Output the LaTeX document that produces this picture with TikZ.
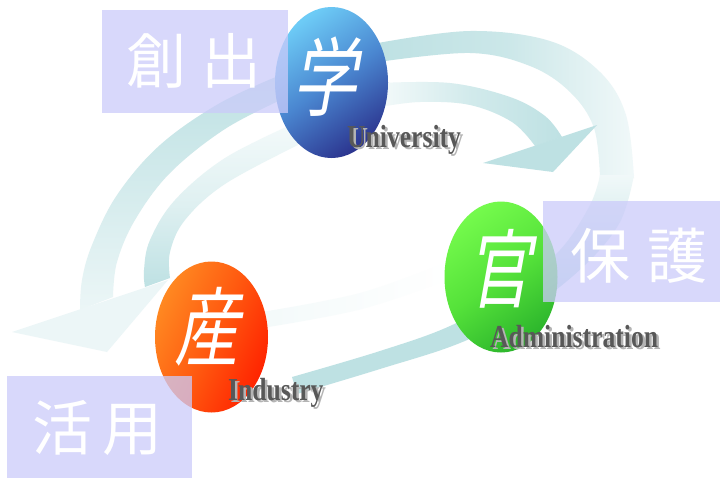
\documentclass[tikz,border=0pt]{standalone}
\usepackage{fontspec}
\usetikzlibrary{shapes.geometric}
\setmainfont{Liberation Serif}
\newfontfamily\cjk{Noto Sans CJK JP}
\newfontfamily\cjkbig[FakeSlant=0.18,FakeStretch=0.75]{Noto Sans CJK JP}
\newfontfamily\lbl[FakeStretch=0.8]{Liberation Serif}
\definecolor{ringc}{HTML}{BEE1E3}
\definecolor{boxc}{HTML}{CBCBFA}
\definecolor{bluel}{HTML}{6DCBF6}
\definecolor{bluem}{HTML}{4A86D0}
\definecolor{blued}{HTML}{2C3690}
\definecolor{greenl}{HTML}{74FA4C}
\definecolor{greenm}{HTML}{55E23A}
\definecolor{greend}{HTML}{2CB52C}
\definecolor{redl}{HTML}{FF8A22}
\definecolor{redm}{HTML}{FF5A10}
\definecolor{redd}{HTML}{FF2200}
\definecolor{lblc}{HTML}{585858}
\definecolor{lbls}{HTML}{B4B4B4}
\newcommand{\shadowtext}[1]{\rlap{\kern2.5pt\raisebox{-2.5pt}{\textcolor{lbls}{#1}}}#1}
\begin{document}
\begin{tikzpicture}[x=1pt,y=-1pt,
  ell/.style={ellipse, draw=none, inner sep=0, minimum width=113pt, minimum height=151pt},
  boxst/.style={rectangle, draw=none, fill=boxc, fill opacity=0.75, inner sep=0},
  boxtext/.style={text=white, inner sep=0, font={\cjk\fontsize{60}{62}\selectfont}},
  kanji/.style={text=white, inner sep=0, font={\cjkbig\fontsize{86}{90}\selectfont}},
  lbltext/.style={text=lblc, inner sep=0, anchor=base west, font={\lbl\bfseries\fontsize{32}{36}\selectfont}},
  smoothe/.style={smooth, tension=0.6}]
\useasboundingbox (0,0) rectangle (720,477);
\fill[white] (0,0) rectangle (720,477);

% faint inner bottom band
\shade[left color=ringc!18!white, right color=white]
  plot[smoothe] coordinates {(262,312) (360,293) (445,263)}
  -- plot[smoothe] coordinates {(450,279) (362,309) (262,328)} -- cycle;

% outer band, top right
\shade[left color=ringc, right color=ringc!22!white, middle color=ringc!80!white]
  plot[smoothe] coordinates {(378,43) (470,31) (550,41) (600,72) (626,115) (634,178)}
  -- plot[smoothe] coordinates {(600,178) (594,128) (570,92) (530,66) (470,53) (378,62)} -- cycle;

% outer band, right bottom
\shade[top color=ringc!22!white, bottom color=ringc, middle color=ringc]
  plot[smoothe] coordinates {(634,175) (620,222) (585,265) (530,308) (460,343) (380,369) (297,394)}
  -- plot[smoothe] coordinates {(292,377) (380,351) (450,326) (510,292) (560,250) (590,205) (600,175)} -- cycle;

% outer band, left, with head
\shade[top color=ringc, bottom color=ringc!30!white, middle color=ringc!65!white]
  plot[smoothe] coordinates {(283,74) (220,103) (160,145) (117,195) (92,245) (82,280) (80,310)}
  -- plot[smoothe] coordinates {(113,297) (117,262) (135,220) (170,173) (225,129) (285,98)} -- cycle;
\fill[ringc!30!white] (12,332) -- (107,352) -- (168,280) -- cycle;

% inner band, left
\shade[top color=ringc!18!white, bottom color=ringc, middle color=ringc!50!white]
  plot[smoothe] coordinates {(295,123) (225,158) (175,200) (150,240) (144,270) (145,287)}
  -- plot[smoothe] coordinates {(170,278) (170,252) (185,220) (225,184) (298,145)} -- cycle;

% inner band, top right, with head
\shade[left color=ringc!18!white, right color=ringc, middle color=ringc!70!white]
  plot[smoothe] coordinates {(380,83) (450,83) (510,97) (545,116) (562,137)}
  -- plot[smoothe] coordinates {(535,146) (512,122) (470,105) (420,102) (380,107)} -- cycle;
\fill[ringc] (483,163) -- (553,172) -- (597,125) -- cycle;

% ellipses
\node[ell, top color=bluel, bottom color=blued, middle color=bluem, shading angle=35] (gaku) at (331.5,82.5) {};
\node[ell, top color=greenl, bottom color=greend, middle color=greenm, shading angle=35] (kan) at (501,277) {};
\node[ell, top color=redl, bottom color=redd, middle color=redm, shading angle=65] (san) at (211.5,337) {};

% boxes
\node[boxst, minimum width=186pt, minimum height=103pt] (bsou) at (195,61.5) {};
\node[boxst, minimum width=177pt, minimum height=101pt] (bhogo) at (631.5,251.5) {};
\node[boxst, minimum width=185pt, minimum height=102pt] (bkatsu) at (99.5,426.5) {};
\node[boxtext] (tsou) at (194,61) {創\hspace{16pt}出};
\node[boxtext] (thogo) at (639,256) {保\hspace{17pt}護};
\node[boxtext] (tkatsu) at (97.5,428) {活\hspace{11pt}用};

% kanji on ellipses
\node[kanji] (kgaku) at (325,77) {学};
\node[kanji] (kkan) at (499,269) {官};
\node[kanji] (ksan) at (207,327) {産};

% labels
\node[lbltext] (lu) at (347,147) {\shadowtext{University}};
\node[lbltext] (la) at (490,347) {\shadowtext{Administration}};
\node[lbltext] (li) at (228,400) {\shadowtext{Industry}};
\end{tikzpicture}
\end{document}
